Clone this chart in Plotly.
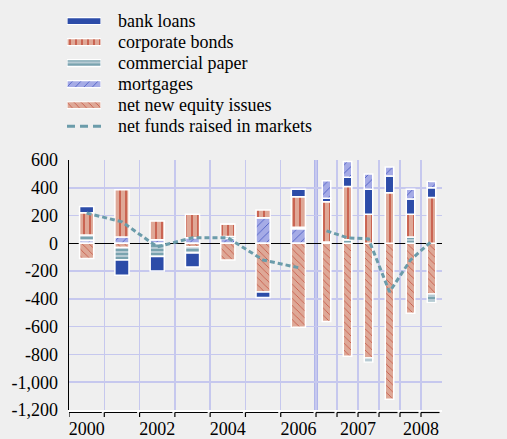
import plotly.graph_objects as go

# ---------------- data ----------------
annual_periods = ["2000", "2001", "2002", "2003", "2004", "2005", "2006"]
quarter_periods = ["2007 Q1", "2007 Q2", "2007 Q3", "2007 Q4", "2008 Q1", "2008 Q2"]

bank_loans_a = [45, -110, -105, -100, 0, -40, 55]
corp_bonds_a = [160, 340, 135, 170, 90, 55, 220]
comm_paper_a = [40, -90, -95, -45, 15, 0, 10]
mortgages_a = [20, 45, 25, 40, 35, 185, 105]
equity_a = [-110, -30, 0, -25, -120, -350, -605]
net_funds_a = [218, 155, -25, 40, 40, -120, -175]

bank_loans_q = [25, 65, 180, 120, 110, 70]
corp_bonds_q = [290, 385, 210, 365, 165, 330]
comm_paper_q = [10, 25, -30, 0, 45, -60]
mortgages_q = [125, 115, 110, 65, 70, 45]
equity_q = [-563, -813, -825, -1122, -503, -365]
net_funds_q = [90, 40, 32, -350, -120, 15]

legend_names = ["bank loans", "corporate bonds", "commercial paper", "mortgages",
                "net new equity issues", "net funds raised in markets"]
year_labels = ["2000", "2002", "2004", "2006", "2007", "2008"]
y_ticks = [600, 400, 200, 0, -200, -400, -600, -800, -1000, -1200]
y_ticktext = ["600", "400", "200", "0", "-200", "-400", "-600", "-800", "-1,000", "-1,200"]

# ---------------- layout geometry ----------------
W, H = 507, 439
PL, PR, PT, PB = 69, 442, 160, 410          # plot area in pixels

q = 0.595                                   # width of a quarter relative to a year
n_a = len(annual_periods)
x_a = [i + 0.5 for i in range(n_a)]
x_q = [n_a + (j + 0.5) * q for j in range(len(quarter_periods))]
bounds = [float(i) for i in range(n_a + 1)] + [n_a + (j + 1) * q for j in range(len(quarter_periods))]
x_max = bounds[-1]
label_pos = [x_a[0], x_a[2], x_a[4], x_a[6], n_a + 2 * q, n_a + 5 * q]

FONT = "Liberation Serif, Times New Roman, serif"
BG = "#efefef"
GRID = "#c6c8ee"

styles = {
    "bank loans": dict(color="#2c4ca8", pattern=dict(shape="")),
    "corporate bonds": dict(color="#dfa897", pattern=dict(shape="|", bgcolor="#dfa897", fgcolor="#c0402e",
                                                          size=6, solidity=0.22, fillmode="replace")),
    "commercial paper": dict(color="#b6cad3", pattern=dict(shape="-", bgcolor="#b6cad3", fgcolor="#5f939f",
                                                           size=4, solidity=0.35, fillmode="replace")),
    "mortgages": dict(color="#a5abe6", pattern=dict(shape="/", bgcolor="#a5abe6", fgcolor="#4f5fc4",
                                                    size=6, solidity=0.15, fillmode="replace")),
    "net new equity issues": dict(color="#dea897", pattern=dict(shape="\\", bgcolor="#dea897", fgcolor="#c4503f",
                                                                 size=5, solidity=0.15, fillmode="replace")),
}
LINE_COLOR = "#6b9caa"

fig = go.Figure()

annual_order = [("mortgages", mortgages_a), ("net new equity issues", equity_a),
                ("commercial paper", comm_paper_a), ("corporate bonds", corp_bonds_a),
                ("bank loans", bank_loans_a)]
quarter_order = [("net new equity issues", equity_q), ("commercial paper", comm_paper_q),
                 ("corporate bonds", corp_bonds_q), ("bank loans", bank_loans_q),
                 ("mortgages", mortgages_q)]

for name, vals in annual_order:
    st = styles[name]
    fig.add_trace(go.Bar(x=x_a, y=vals, width=0.4, name=name, showlegend=False,
                         marker=dict(color=st["color"], pattern=st["pattern"],
                                     line=dict(color="white", width=1.5))))
for name, vals in quarter_order:
    st = styles[name]
    fig.add_trace(go.Bar(x=x_q, y=vals, width=0.24, name=name, showlegend=False,
                         marker=dict(color=st["color"], pattern=st["pattern"],
                                     line=dict(color="white", width=1.5))))

line_style = dict(color=LINE_COLOR, width=3, dash="5px,3px")
fig.add_trace(go.Scatter(x=x_a, y=net_funds_a, mode="lines", line=line_style, showlegend=False,
                         name="net funds raised in markets"))
fig.add_trace(go.Scatter(x=x_q, y=net_funds_q, mode="lines", line=line_style, showlegend=False,
                         name="net funds raised in markets"))

# ---------------- hand-made legend (swatches on their own small axes) ----------------
ROW0, ROWH = 21.0, 21.05
n_rows = len(legend_names)
leg_top = ROW0 - ROWH / 2
leg_bot = leg_top + n_rows * ROWH
for i, name in enumerate(legend_names[:5]):
    st = styles[name]
    fig.add_trace(go.Bar(x=[1], y=[i], orientation="h", width=0.33, xaxis="x3", yaxis="y3",
                         showlegend=False, hoverinfo="skip",
                         marker=dict(color=st["color"], pattern=st["pattern"],
                                     line=dict(color="white", width=1.2))))
fig.add_trace(go.Scatter(x=[0, 1], y=[5, 5], mode="lines", xaxis="x3", yaxis="y3", showlegend=False,
                         hoverinfo="skip", line=dict(color=LINE_COLOR, width=3, dash="8px,5px")))

annotations = []
for i, name in enumerate(legend_names):
    annotations.append(dict(text=name, xref="paper", yref="paper", x=116 / W,
                            y=1 - (ROW0 + i * ROWH) / H, xanchor="left", yanchor="middle",
                            showarrow=False, font=dict(family=FONT, size=18, color="black")))

# thick separator between annual and quarterly data
shapes = [dict(type="line", xref="x", yref="paper", x0=n_a, x1=n_a, y0=1 - PB / H, y1=1 - PT / H,
               line=dict(color="#b0b5ea", width=4), layer="below")]
# bracket-style ticks under the axis
gap = 2.5 * x_max / (PR - PL)
yb1 = 1 - (PB + 2.5) / H
yb2 = 1 - (PB + 7) / H
for k in range(len(bounds) - 1):
    b0, b1 = bounds[k], bounds[k + 1]
    shapes.append(dict(type="line", xref="x", yref="paper", x0=b0, x1=b1 - gap, y0=yb1, y1=yb1,
                       line=dict(color="black", width=1.2)))
    shapes.append(dict(type="line", xref="x", yref="paper", x0=b0, x1=b0, y0=yb1, y1=yb2,
                       line=dict(color="black", width=1.2)))

xdom = [PL / W, PR / W]
ydom = [1 - PB / H, 1 - PT / H]

fig.update_layout(
    width=W, height=H,
    margin=dict(l=0, r=0, t=0, b=0, pad=0),
    paper_bgcolor=BG, plot_bgcolor=BG,
    barmode="relative", bargap=0,
    font=dict(family=FONT, size=18, color="black"),
    showlegend=False,
    annotations=annotations,
    shapes=shapes,
    xaxis=dict(domain=xdom, anchor="y", range=[0, x_max], tickmode="array", tickvals=label_pos,
               ticktext=year_labels, ticks="", showgrid=False, zeroline=False, showline=True,
               linecolor="white", linewidth=2, automargin=False, ticklabelstandoff=1,
               tickfont=dict(family=FONT, size=18),
               minor=dict(tickmode="array", tickvals=bounds[1:-1], showgrid=True, gridcolor=GRID,
                          gridwidth=1.5, ticks="")),
    yaxis=dict(domain=ydom, anchor="x", range=[-1200, 600], tickmode="array", tickvals=y_ticks,
               ticktext=y_ticktext, showgrid=True, gridcolor=GRID, gridwidth=1.5, zeroline=True,
               zerolinecolor="black", zerolinewidth=1.5, showline=True, linecolor="black",
               linewidth=1.5, ticks="", automargin=False, ticklabelstandoff=6,
               tickfont=dict(family=FONT, size=18)),
    yaxis2=dict(domain=ydom, anchor="x", range=[-1200, 600], overlaying="y", side="right",
                tickmode="array", tickvals=y_ticks, ticktext=y_ticktext, showgrid=False,
                zeroline=False, showline=True, linecolor="white", linewidth=2, ticks="",
                automargin=False, ticklabelstandoff=6, tickfont=dict(family=FONT, size=18)),
    xaxis3=dict(domain=[67 / W, 101 / W], anchor="y3", range=[0, 1], visible=False, fixedrange=True),
    yaxis3=dict(domain=[1 - leg_bot / H, 1 - leg_top / H], anchor="x3", range=[n_rows - 0.5, -0.5],
                visible=False, fixedrange=True),
)

fig.write_html("out.html",
               config={"displayModeBar": False, "staticPlot": True},
               post_script="document.body.style.margin='0';document.body.style.overflow='hidden';"
                           "document.body.style.background='#efefef';")
